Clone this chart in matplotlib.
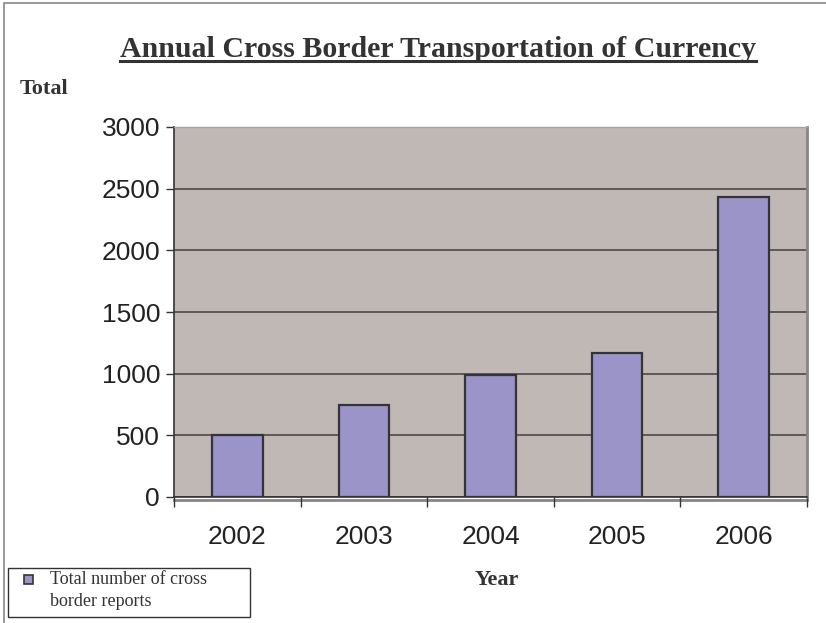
import matplotlib
matplotlib.use("Agg")
import matplotlib.pyplot as plt
from matplotlib.patches import Rectangle
from matplotlib.lines import Line2D
import numpy as np

years = ["2002", "2003", "2004", "2005", "2006"]
reports = [500, 750, 990, 1170, 2430]
y_ticks = [0, 500, 1000, 1500, 2000, 2500, 3000]

title = "Annual Cross Border Transportation of Currency"
ylabel = "Total"
xlabel = "Year"
legend_label = "Total number of cross\nborder reports"

W, H = 826, 623
fig = plt.figure(figsize=(W / 100, H / 100), dpi=100)
fig.patch.set_facecolor("white")

ax = fig.add_axes([174 / W, 1 - 497 / H, (807 - 174) / W, (497 - 127) / H])
ax.set_facecolor("#C0B8B5")
x = np.arange(len(years))
ax.bar(x, reports, width=0.40, color="#9A94C8", edgecolor="#333338", linewidth=1.6, zorder=3)
ax.set_xlim(-0.5, len(years) - 0.5)
ax.set_ylim(0, 3000)
ax.set_yticks(y_ticks)
ax.set_yticklabels([str(t) for t in y_ticks], fontfamily="Liberation Sans", fontsize=19, color="#222222")
ax.set_xticks(x)
ax.set_xticklabels(years, fontfamily="Liberation Sans", fontsize=19, color="#222222")
ax.tick_params(axis="x", length=0, pad=20)
ax.tick_params(axis="y", length=6, width=1, color="#333333", direction="out", pad=4)
ax.set_xticks(np.arange(-0.5, len(years)), minor=True)
ax.tick_params(axis="x", which="minor", length=7, width=1, color="#333333", direction="out")
ax.grid(axis="y", color="#5E5858", linewidth=1.4, zorder=1)
ax.spines["top"].set_color("#A8A0A0")
ax.spines["top"].set_linewidth(1.0)
ax.spines["right"].set_color("#8C8484")
ax.spines["right"].set_linewidth(2.0)
ax.spines["left"].set_color("#333333")
ax.spines["left"].set_linewidth(1.2)
ax.spines["bottom"].set_color("#333333")
ax.spines["bottom"].set_linewidth(1.2)
ax.plot([0, 1], [-0.007, -0.007], transform=ax.transAxes, color="#8C8484", linewidth=2, clip_on=False, zorder=0)

# figure border
fig.add_artist(Rectangle((4 / W, -0.01), 1.0, 1 - 3 / H + 0.01, transform=fig.transFigure,
                         fill=False, edgecolor="#888888", linewidth=1.2))

# title with underline
t = fig.text(438 / W, 1 - 57 / H, title, ha="center", va="baseline",
             fontfamily="Liberation Serif", fontweight="bold", fontsize=21.5, color="#333333")
fig.canvas.draw()
bb = t.get_window_extent()
fig.add_artist(Line2D([bb.x0 / W, bb.x1 / W], [1 - 61 / H, 1 - 61 / H], transform=fig.transFigure,
                      color="#333333", linewidth=2.2))

fig.text(20 / W, 1 - 94 / H, ylabel, ha="left", va="baseline",
         fontfamily="Liberation Serif", fontweight="bold", fontsize=16, color="#333333")
fig.text(497 / W, 1 - 585 / H, xlabel, ha="center", va="baseline",
         fontfamily="Liberation Serif", fontweight="bold", fontsize=16, color="#333333")

# legend
fig.add_artist(Rectangle((8 / W, 1 - 617 / H), (250 - 8) / W, (617 - 568) / H, transform=fig.transFigure,
                         fill=True, facecolor="white", edgecolor="#333333", linewidth=1.0))
fig.add_artist(Rectangle((24 / W, 1 - 584 / H), 9 / W, 9 / H, transform=fig.transFigure,
                         facecolor="#9A94C8", edgecolor="#333338", linewidth=1.2))
fig.text(50 / W, 1 - 571 / H, legend_label, ha="left", va="top", linespacing=1.35,
         fontfamily="Liberation Serif", fontsize=13, color="#333333")

fig.savefig("out.png", dpi=100)
